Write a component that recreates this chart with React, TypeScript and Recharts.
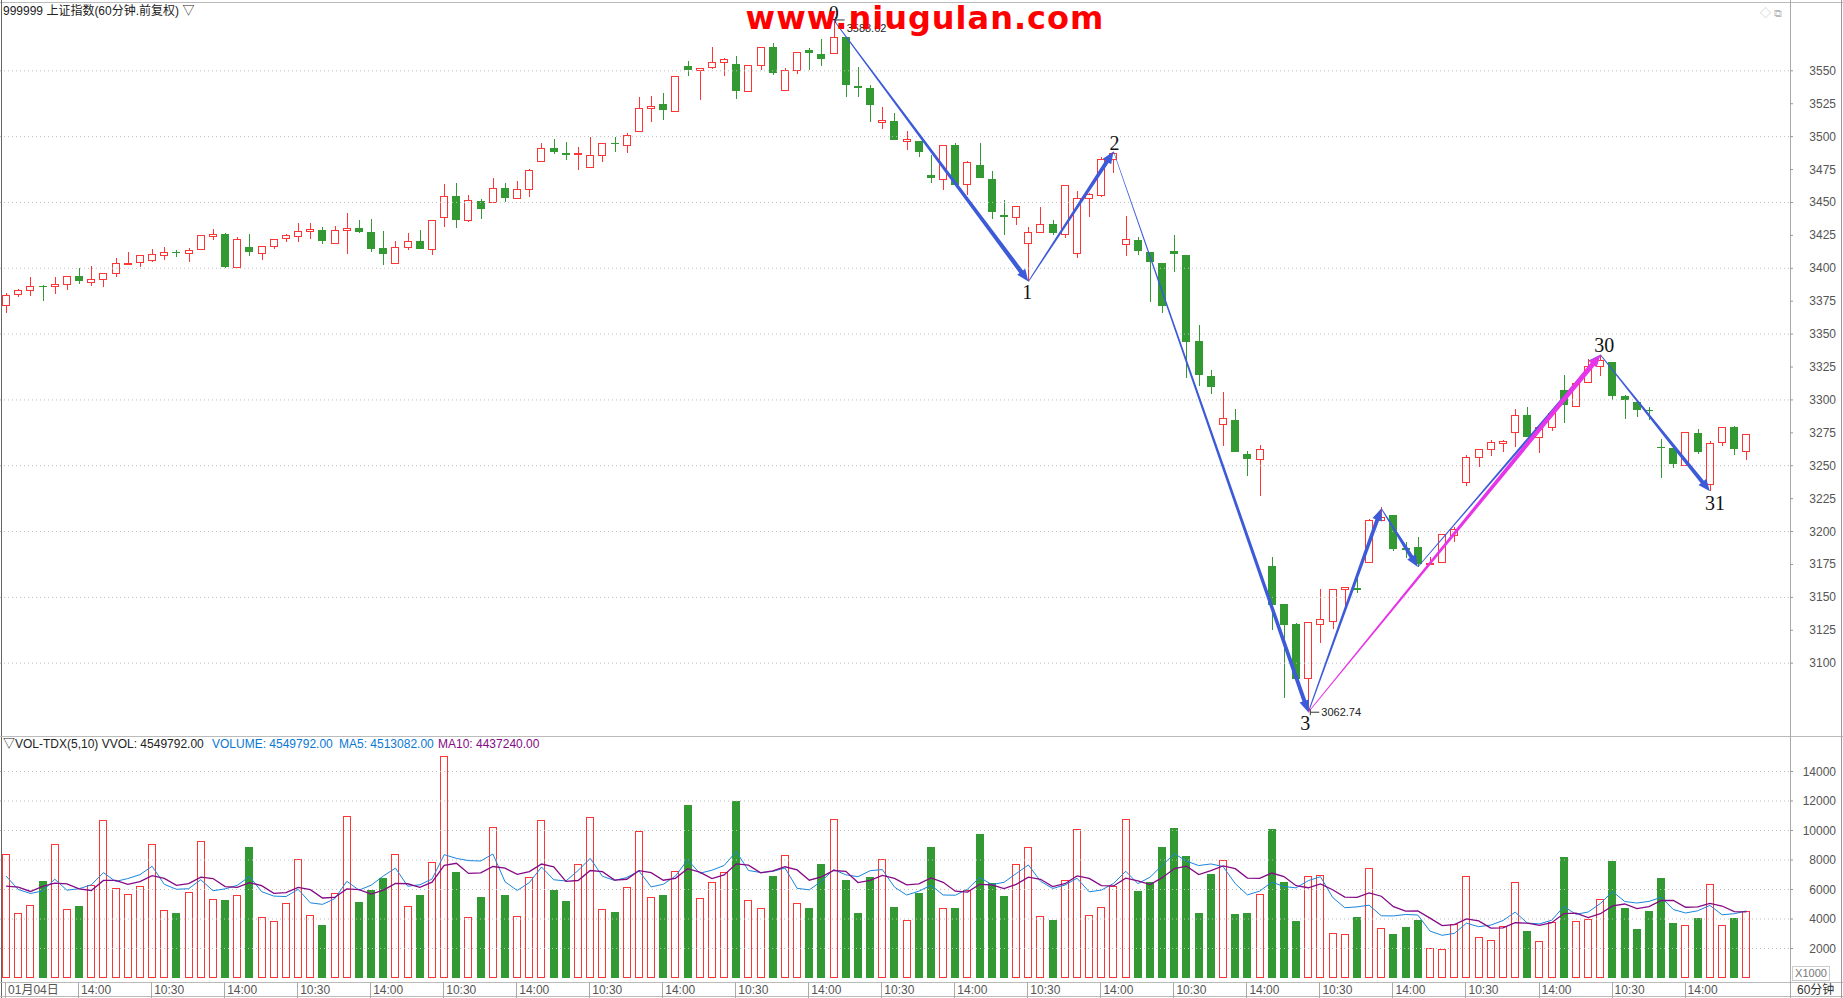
import React from 'react';
import {
  ComposedChart,
  Bar,
  Line,
  XAxis,
  YAxis,
  ReferenceLine,
  ReferenceDot
} from 'recharts';

// 上证指数 60分钟 K线 (每天4根)
const OPEN = [
  3371.4, 3380.3, 3383.1, 3386.9, 3386.1, 3387.6, 3394.0, 3389.2, 3391.7, 3396.2,
  3403.0, 3404.4, 3406.0, 3410.0, 3412.4, 3411.4, 3414.5, 3424.4, 3426.0, 3400.8,
  3416.0, 3411.4, 3416.8, 3422.8, 3424.4, 3428.2, 3429.2, 3419.0, 3428.9, 3430.4,
  3427.7, 3415.2, 3403.8, 3416.0, 3420.6, 3414.5, 3438.8, 3454.8, 3436.3, 3451.2,
  3450.2, 3460.8, 3453.0, 3460.1, 3481.1, 3491.2, 3487.4, 3486.4, 3476.8, 3485.9,
  3495.3, 3493.5, 3503.9, 3521.6, 3524.7, 3519.4, 3553.8, 3550.5, 3552.5, 3556.6,
  3555.3, 3534.3, 3554.0, 3568.0, 3535.3, 3550.3, 3565.7, 3562.9, 3563.4, 3575.6,
  3538.6, 3536.8, 3511.0, 3511.8, 3496.6, 3496.8, 3471.0, 3467.7, 3493.5, 3463.9,
  3478.6, 3467.7, 3440.3, 3438.8, 3419.0, 3427.4, 3433.7, 3425.9, 3411.4, 3453.2,
  3455.5, 3482.9, 3418.3, 3421.6, 3412.2, 3403.8, 3413.2, 3409.9, 3344.4, 3318.5,
  3281.0, 3285.0, 3259.0, 3254.4, 3173.5, 3144.6, 3130.0, 3088.2, 3129.2, 3132.0,
  3156.0, 3157.3, 3176.2, 3208.4, 3212.2, 3187.4, 3188.6, 3174.7, 3176.3, 3196.8,
  3237.5, 3255.9, 3262.0, 3267.0, 3275.4, 3288.5, 3271.1, 3278.7, 3307.5, 3295.1,
  3313.6, 3325.7, 3328.8, 3303.2, 3298.2, 3292.6, 3264.5, 3263.3, 3250.1, 3274.9,
  3235.4, 3267.3, 3279.7, 3261.0
];
const HIGH = [
  3381.0, 3384.6, 3393.0, 3387.3, 3393.0, 3394.0, 3400.0, 3401.8, 3396.2, 3407.9,
  3412.0, 3410.0, 3415.0, 3416.5, 3414.0, 3415.2, 3425.1, 3430.0, 3426.7, 3423.6,
  3426.0, 3416.5, 3422.1, 3425.9, 3434.5, 3434.5, 3431.2, 3432.0, 3441.8, 3436.8,
  3437.5, 3428.4, 3420.8, 3426.7, 3429.2, 3436.5, 3464.1, 3464.9, 3455.5, 3452.7,
  3468.7, 3464.9, 3466.4, 3475.3, 3495.0, 3498.3, 3495.8, 3492.2, 3499.8, 3495.0,
  3499.6, 3502.6, 3530.2, 3531.0, 3533.0, 3545.9, 3557.6, 3551.5, 3568.2, 3559.4,
  3561.4, 3554.3, 3568.0, 3571.0, 3552.0, 3564.2, 3567.7, 3574.0, 3588.62, 3575.6,
  3553.0, 3539.4, 3522.4, 3517.8, 3504.4, 3496.8, 3486.2, 3493.5, 3495.0, 3481.4,
  3495.0, 3473.8, 3451.5, 3447.2, 3431.0, 3446.9, 3436.3, 3462.6, 3458.8, 3457.5,
  3484.9, 3488.7, 3439.8, 3423.4, 3412.2, 3403.8, 3424.9, 3409.9, 3356.6, 3323.1,
  3306.3, 3293.1, 3261.5, 3266.0, 3180.3, 3144.6, 3130.5, 3130.7, 3156.0, 3155.8,
  3157.8, 3168.4, 3209.6, 3218.5, 3212.2, 3192.4, 3196.2, 3180.5, 3197.6, 3203.3,
  3258.4, 3262.0, 3269.6, 3269.6, 3293.1, 3294.4, 3278.7, 3289.3, 3319.1, 3312.8,
  3330.8, 3334.3, 3328.8, 3304.0, 3299.4, 3294.9, 3270.3, 3263.3, 3275.4, 3277.9,
  3269.1, 3279.2, 3280.2, 3274.1
];
const LOW = [
  3366.4, 3377.8, 3379.0, 3375.5, 3380.5, 3383.6, 3388.4, 3386.6, 3385.6, 3393.0,
  3403.0, 3400.8, 3404.4, 3406.4, 3408.4, 3404.4, 3414.5, 3421.6, 3400.0, 3400.8,
  3409.0, 3406.6, 3415.0, 3420.0, 3420.0, 3422.6, 3418.8, 3419.0, 3411.0, 3427.1,
  3412.7, 3402.6, 3403.3, 3414.0, 3414.5, 3410.2, 3431.5, 3430.7, 3435.5, 3437.8,
  3450.2, 3450.2, 3453.0, 3454.3, 3481.1, 3487.0, 3482.6, 3474.8, 3476.8, 3481.1,
  3488.7, 3487.9, 3503.9, 3511.0, 3512.3, 3519.4, 3545.7, 3527.5, 3551.5, 3546.4,
  3528.5, 3534.3, 3550.3, 3546.7, 3534.5, 3547.5, 3550.8, 3554.0, 3563.4, 3529.8,
  3529.8, 3511.0, 3505.7, 3497.1, 3490.2, 3484.9, 3464.6, 3459.6, 3463.4, 3455.3,
  3468.2, 3437.5, 3424.9, 3432.5, 3390.0, 3427.4, 3425.1, 3422.8, 3407.6, 3438.8,
  3454.0, 3472.2, 3409.7, 3410.2, 3374.2, 3365.8, 3397.5, 3316.5, 3310.4, 3304.3,
  3265.2, 3260.2, 3242.5, 3226.8, 3124.9, 3073.6, 3087.0, 3062.74, 3115.0, 3126.2,
  3141.4, 3153.2, 3176.2, 3207.9, 3185.1, 3180.0, 3173.0, 3174.7, 3176.3, 3191.9,
  3234.9, 3249.3, 3257.7, 3260.7, 3264.0, 3272.1, 3259.5, 3276.2, 3282.2, 3294.4,
  3313.6, 3317.9, 3300.2, 3285.5, 3286.8, 3285.0, 3240.7, 3248.3, 3250.1, 3259.0,
  3230.6, 3264.8, 3258.2, 3254.4
];
const CLOSE = [
  3379.5, 3383.3, 3386.4, 3386.4, 3387.9, 3394.0, 3390.7, 3391.7, 3396.2, 3403.8,
  3403.8, 3410.0, 3410.7, 3412.2, 3412.0, 3413.5, 3425.1, 3426.0, 3400.6, 3422.1,
  3412.0, 3416.5, 3422.1, 3425.1, 3428.2, 3429.2, 3420.6, 3428.9, 3430.4, 3427.7,
  3415.0, 3411.2, 3416.0, 3420.6, 3415.0, 3436.5, 3454.8, 3437.0, 3451.7, 3445.1,
  3460.8, 3453.7, 3460.1, 3474.5, 3491.2, 3488.0, 3486.4, 3487.4, 3485.9, 3495.0,
  3494.8, 3500.9, 3521.6, 3523.2, 3520.4, 3545.9, 3550.3, 3551.5, 3556.6, 3558.9,
  3534.3, 3554.3, 3568.0, 3548.7, 3550.3, 3564.2, 3563.2, 3558.6, 3575.6, 3539.6,
  3537.3, 3523.7, 3512.0, 3497.1, 3497.6, 3488.7, 3468.2, 3493.5, 3463.4, 3480.6,
  3468.2, 3443.1, 3438.8, 3447.2, 3427.4, 3433.0, 3426.6, 3462.6, 3453.2, 3456.3,
  3482.9, 3487.4, 3421.6, 3413.5, 3404.6, 3371.7, 3410.7, 3343.9, 3318.8, 3309.6,
  3285.5, 3260.2, 3254.9, 3262.0, 3144.4, 3128.7, 3088.2, 3130.7, 3133.0, 3155.8,
  3157.3, 3155.8, 3208.4, 3211.0, 3186.9, 3186.1, 3175.5, 3175.5, 3197.6, 3201.3,
  3255.9, 3262.0, 3267.8, 3268.6, 3288.5, 3272.1, 3278.7, 3289.3, 3296.4, 3312.8,
  3325.7, 3329.8, 3303.2, 3299.9, 3292.3, 3291.8, 3263.5, 3251.4, 3275.4, 3260.2,
  3267.0, 3279.2, 3262.5, 3274.1
];
// 成交量 (X1000)
const VOLUME = [
  8426, 4417, 4960, 6591, 9105, 4689, 4915, 6274, 10736, 6115,
  5663, 6251, 9105, 4621, 4440, 5844, 9309, 5368, 5255, 5640,
  8856, 4145, 3873, 5096, 8086, 4281, 3624, 5776, 11008, 5119,
  5934, 6750, 8426, 4892, 5595, 7882, 15017, 7157, 4145, 5459,
  10260, 5595, 4213, 6818, 10736, 5934, 5187, 7746, 10940, 4689,
  4507, 6183, 9989, 5504, 5595, 7271, 11710, 5436, 6523, 7203,
  11982, 5300, 4757, 6886, 8358, 5096, 4779, 7701, 10804, 6614,
  4440, 6818, 8086, 4847, 3941, 5730, 8856, 4757, 4779, 5980,
  9740, 6410, 5527, 7746, 8902, 4213, 3964, 6659, 10079, 4281,
  4824, 6206, 10804, 5866, 6478, 8856, 10147, 8245, 4394, 7022,
  7973, 4349, 4440, 5663, 10079, 6478, 3896, 6886, 6999, 3058,
  2990, 4168, 7475, 3398, 3012, 3488, 3964, 2039, 1971, 3669,
  6931, 2786, 2582, 3511, 6523, 3216, 2514, 3805, 8177, 3873,
  4009, 5368, 7905, 4779, 3352, 4575, 6750, 3760, 3601, 4100,
  6387, 3601, 4100, 4550
];
// 图上读出的均量线起始值 (窗口不足时使用)
const MA5_HEAD = [6908, 6000, 5730, 5900];
const MA10_HEAD = [6229, 6160, 5866, 6206, 6433, 6387, 6047, 5934, 6614];

const TIME_TICKS = [1, 7, 13, 19, 25, 31, 37, 43, 49, 55, 61, 67, 73, 79, 85, 91, 97, 103, 109, 115, 121, 127, 133, 139];
const TIME_LABELS = [
  '01月04日', '14:00', '10:30', '14:00', '10:30', '14:00', '10:30', '14:00', '10:30', '14:00', '10:30', '14:00',
  '10:30', '14:00', '10:30', '14:00', '10:30', '14:00', '10:30', '14:00', '10:30', '14:00', '10:30', '14:00'
];
const PRICE_TICKS = [3100, 3125, 3150, 3175, 3200, 3225, 3250, 3275, 3300, 3325, 3350, 3375, 3400, 3425, 3450, 3475, 3500, 3525, 3550];
const PRICE_GRID = [3100, 3150, 3200, 3250, 3300, 3350, 3400, 3450, 3500, 3550];
const VOL_TICKS = [2000, 4000, 6000, 8000, 10000, 12000, 14000];

// 波浪标注点 (K线序号, 价格)
const WAVE_POINTS = [
  { name: '0', t: 69, p: 3588.62 },
  { name: '1', t: 85, p: 3390.0 },
  { name: '2', t: 92, p: 3488.7 },
  { name: '3', t: 108, p: 3062.74 },
  { name: 'a', t: 114, p: 3217.5 },
  { name: 'b', t: 117, p: 3173.0 },
  { name: '30', t: 132, p: 3334.3 },
  { name: '31', t: 141, p: 3230.6 }
];

const RED = '#ff3535';
const GREEN = '#339933';
const BLUE = '#3d5bd9';
const MAGENTA = '#e834e8';
const SLOTS = 147;

const avg = (arr: number[]) => arr.reduce((s, v) => s + v, 0) / arr.length;

const rows = Array.from({ length: SLOTS }, (_, i) => {
  const t = i + 1;
  if (i >= OPEN.length) return { t };
  return {
    t,
    range: [LOW[i], HIGH[i]],
    open: OPEN[i],
    high: HIGH[i],
    low: LOW[i],
    close: CLOSE[i],
    vol: VOLUME[i],
    ma5: i < 4 ? MA5_HEAD[i] : avg(VOLUME.slice(i - 4, i + 1)),
    ma10: i < 9 ? MA10_HEAD[i] : avg(VOLUME.slice(i - 9, i + 1))
  };
});

const pt = (name: string) => WAVE_POINTS.find((w) => w.name === name)!;

const Candle = (props: any) => {
  const { x, y, width, height, payload } = props;
  if (!payload || payload.open == null) return null;
  const { open, close, high, low } = payload;
  const k = height / (high - low || 1);
  const py = (v: number) => y + (high - v) * k;
  const up = close >= open;
  const cx = Math.round(x + width / 2) + 0.5;
  const top = py(Math.max(open, close));
  const bot = py(Math.min(open, close));
  const bh = Math.max(bot - top, 1);
  if (up) {
    return (
      <g shapeRendering="crispEdges">
        <line x1={cx} x2={cx} y1={y} y2={top} stroke={RED} />
        <line x1={cx} x2={cx} y1={top + bh} y2={y + height} stroke={RED} />
        <rect x={Math.round(x) + 0.5} y={top} width={width - 1} height={bh} fill="#fff" stroke={RED} />
      </g>
    );
  }
  return (
    <g shapeRendering="crispEdges">
      <line x1={cx} x2={cx} y1={y} y2={y + height} stroke={GREEN} />
      <rect x={Math.round(x)} y={top} width={width} height={bh} fill={GREEN} />
    </g>
  );
};

const VolBar = (props: any) => {
  const { x, y, width, height, payload } = props;
  if (!payload || payload.vol == null) return null;
  if (payload.close >= payload.open) {
    return <rect x={Math.round(x) + 0.5} y={y + 0.5} width={width - 1} height={height - 1} fill="#fff" stroke={RED} shapeRendering="crispEdges" />;
  }
  return <rect x={Math.round(x)} y={y} width={width} height={height} fill={GREEN} shapeRendering="crispEdges" />;
};

// 渐粗箭头线 (通达信画线工具样式)
const taper = (color: string, w0: number, w1: number) => (p: any) => {
  const { x1, y1, x2, y2 } = p;
  const dx = x2 - x1;
  const dy = y2 - y1;
  const len = Math.hypot(dx, dy) || 1;
  const ux = dx / len, uy = dy / len;
  const nx = -uy, ny = ux;
  const hl = 12, hw = 5;
  const bx = x2 - ux * hl, by = y2 - uy * hl;
  const pts = [
    [x1 + (nx * w0) / 2, y1 + (ny * w0) / 2],
    [bx + (nx * w1) / 2, by + (ny * w1) / 2],
    [bx + nx * hw, by + ny * hw],
    [x2, y2],
    [bx - nx * hw, by - ny * hw],
    [bx - (nx * w1) / 2, by - (ny * w1) / 2],
    [x1 - (nx * w0) / 2, y1 - (ny * w0) / 2]
  ];
  return <polygon points={pts.map((q) => q.join(',')).join(' ')} fill={color} />;
};

const waveLabel = (text: string, dx: number, dy: number) => (p: any) => (
  <text x={p.cx + dx} y={p.cy + dy} textAnchor="middle" fontFamily="'Liberation Serif', serif" fontSize={20} fill="#111">
    {text}
  </text>
);

const priceMark = (text: string, dy: number) => (p: any) => (
  <g>
    <line x1={p.cx + 2} x2={p.cx + 11} y1={p.cy} y2={p.cy} stroke="#333" />
    <line x1={p.cx + 2} x2={p.cx + 2} y1={p.cy - 3} y2={p.cy + 3} stroke="#333" />
    <text x={p.cx + 13} y={p.cy + dy} fontFamily="'Liberation Sans', Arial" fontSize={11} fill="#222">
      {text}
    </text>
  </g>
);

const PriceTick = ({ x, y, payload }: any) => (
  <g>
    <line x1={x + 1} x2={x + 4} y1={y} y2={y} stroke="#999" />
    <text x={x + 47} y={y + 4} textAnchor="end" fontFamily="'Liberation Sans', Arial" fontSize={12} fill="#555">
      {payload.value}
    </text>
  </g>
);

const TimeTick = ({ x, y, payload }: any) => {
  const idx = TIME_TICKS.indexOf(payload.value);
  if (idx < 0) return null;
  return (
    <g>
      <line x1={Math.round(x) - 0.5} x2={Math.round(x) - 0.5} y1={y + 4} y2={y + 20} stroke="#aaa" />
      <text x={x + 2} y={y + 16} fontFamily="'Liberation Sans', 'Noto Sans CJK SC', Arial" fontSize={12} fill="#555">
        {TIME_LABELS[idx]}
      </text>
    </g>
  );
};

const App: React.FC = () => {
  const a = pt('0'), b = pt('1'), c = pt('2'), d = pt('3');
  const e = pt('a'), f = pt('b'), g = pt('30'), h = pt('31');
  const seg = (p: any, q: any) => [{ x: p.t, y: p.p }, { x: q.t, y: q.p }];

  return (
    <div style={{ position: 'absolute', left: 0, top: 0, width: 1843, height: 998, background: '#fff', overflow: 'hidden', fontFamily: "'Liberation Sans', 'Noto Sans CJK SC', Arial" }}>
      {/* 边框 */}
      <div style={{ position: 'absolute', left: 0, top: 2, width: 1843, height: 1, background: '#bbb' }} />
      <div style={{ position: 'absolute', left: 1, top: 0, width: 1, height: 998, background: '#666' }} />
      <div style={{ position: 'absolute', left: 0, top: 736, width: 1843, height: 1, background: '#bbb' }} />
      <div style={{ position: 'absolute', left: 0, top: 982, width: 1843, height: 1, background: '#bbb' }} />
      <div style={{ position: 'absolute', left: 0, top: 996, width: 1843, height: 1, background: '#bbb' }} />
      <div style={{ position: 'absolute', left: 1790, top: 0, width: 1, height: 998, background: '#aaa' }} />
      <div style={{ position: 'absolute', left: 1841, top: 0, width: 1, height: 998, background: '#999' }} />

      {/* 主图 K线 */}
      <div style={{ position: 'absolute', left: 0, top: 0 }}>
        <ComposedChart width={1843} height={736} data={rows} margin={{ top: 5, right: 0, bottom: 7, left: 0 }}>
          <XAxis dataKey="t" hide />
          <YAxis
            orientation="right"
            width={54}
            domain={[3050, 3600]}
            allowDataOverflow
            ticks={PRICE_TICKS}
            interval={0}
            axisLine={false}
            tickLine={false}
            tickSize={0}
            tickMargin={0}
            tick={<PriceTick />}
          />
          {PRICE_GRID.map((v) => (
            <ReferenceLine key={v} y={v} stroke="#bdbdbd" strokeDasharray="1 3" />
          ))}
          <Bar dataKey="range" barSize={8} shape={<Candle />} isAnimationActive={false} />
          <ReferenceLine segment={seg(a, b)} shape={taper(BLUE, 1, 4.5)} />
          <ReferenceLine segment={seg(b, c)} shape={taper(BLUE, 1, 4)} />
          <ReferenceLine segment={seg(c, d)} shape={taper(BLUE, 0.6, 4)} />
          <ReferenceLine segment={seg(d, e)} shape={taper(BLUE, 1, 4)} />
          <ReferenceLine segment={seg(e, f)} shape={taper(BLUE, 0.8, 4)} />
          <ReferenceLine segment={seg(f, g)} shape={taper(BLUE, 0.8, 3)} />
          <ReferenceLine segment={seg(d, g)} shape={taper(MAGENTA, 0.8, 5)} />
          <ReferenceLine segment={seg(g, h)} shape={taper(BLUE, 1, 4)} />
          <ReferenceDot x={a.t} y={a.p} r={0} shape={waveLabel('0', 0, 0)} />
          <ReferenceDot x={b.t} y={b.p} r={0} shape={waveLabel('1', -1, 18)} />
          <ReferenceDot x={c.t} y={c.p} r={0} shape={waveLabel('2', 1, -2)} />
          <ReferenceDot x={d.t} y={d.p} r={0} shape={waveLabel('3', -3, 18)} />
          <ReferenceDot x={g.t} y={g.p} r={0} shape={waveLabel('30', 4, -3)} />
          <ReferenceDot x={h.t} y={h.p} r={0} shape={waveLabel('31', 5, 19)} />
          <ReferenceDot x={a.t} y={a.p} r={0} shape={priceMark(a.p.toFixed(2), 12)} />
          <ReferenceDot x={d.t} y={d.p} r={0} shape={priceMark(d.p.toFixed(2), 4)} />
        </ComposedChart>
      </div>

      {/* 成交量副图 */}
      <div style={{ position: 'absolute', left: 0, top: 736 }}>
        <ComposedChart width={1843} height={262} data={rows} margin={{ top: 6, right: 0, bottom: 0, left: 0 }}>
          <XAxis
            dataKey="t"
            height={20}
            ticks={TIME_TICKS}
            interval={0}
            axisLine={false}
            tickLine={false}
            tickSize={0}
            tickMargin={0}
            tick={<TimeTick />}
          />
          <YAxis
            orientation="right"
            width={54}
            domain={[0, 16000]}
            allowDataOverflow
            ticks={VOL_TICKS}
            interval={0}
            axisLine={false}
            tickLine={false}
            tickSize={0}
            tickMargin={0}
            tick={<PriceTick />}
          />
          {VOL_TICKS.map((v) => (
            <ReferenceLine key={v} y={v} stroke="#bdbdbd" strokeDasharray="1 3" />
          ))}
          <Bar dataKey="vol" barSize={8} shape={<VolBar />} isAnimationActive={false} />
          <Line dataKey="ma5" stroke="#1a86dc" strokeWidth={1} dot={false} activeDot={false} isAnimationActive={false} />
          <Line dataKey="ma10" stroke="#850a85" strokeWidth={1.3} dot={false} activeDot={false} isAnimationActive={false} />
        </ComposedChart>
      </div>

      {/* 标题与指标说明 */}
      <div style={{ position: 'absolute', left: 3, top: 4, fontSize: 12, lineHeight: '14px', color: '#222', whiteSpace: 'nowrap' }}>
        999999 上证指数(60分钟.前复权) ▽
      </div>
      <div style={{ position: 'absolute', left: 3, top: 737, fontSize: 12, lineHeight: '14px', whiteSpace: 'nowrap' }}>
        <span style={{ color: '#222' }}>▽VOL-TDX(5,10) VVOL: 4549792.00</span>
        <span style={{ position: 'absolute', left: 209, color: '#0a78d2' }}>VOLUME: 4549792.00</span>
        <span style={{ position: 'absolute', left: 336, color: '#0a78d2' }}>MA5: 4513082.00</span>
        <span style={{ position: 'absolute', left: 435, color: '#850a85' }}>MA10: 4437240.00</span>
      </div>
      <div style={{ position: 'absolute', left: 1792, top: 966, width: 36, height: 13, border: '1px solid #ccc', fontSize: 11, lineHeight: '13px', color: '#777', textAlign: 'center' }}>X1000</div>
      <div style={{ position: 'absolute', left: 1797, top: 983, fontSize: 12, lineHeight: '14px', color: '#333', whiteSpace: 'nowrap' }}>60分钟</div>
      <div style={{ position: 'absolute', left: 1760, top: 4, fontSize: 11, color: '#bbb' }}>◇ ⧉</div>

      {/* 水印 */}
      <div style={{ position: 'absolute', left: 744, top: 0, width: 362, textAlign: 'center', fontFamily: "'DejaVu Sans', Arial", fontWeight: 'bold', fontSize: 32, lineHeight: '36px', letterSpacing: 1, color: '#ff0000', whiteSpace: 'nowrap' }}>
        www.niugulan.com
      </div>
    </div>
  );
};

export default App;
